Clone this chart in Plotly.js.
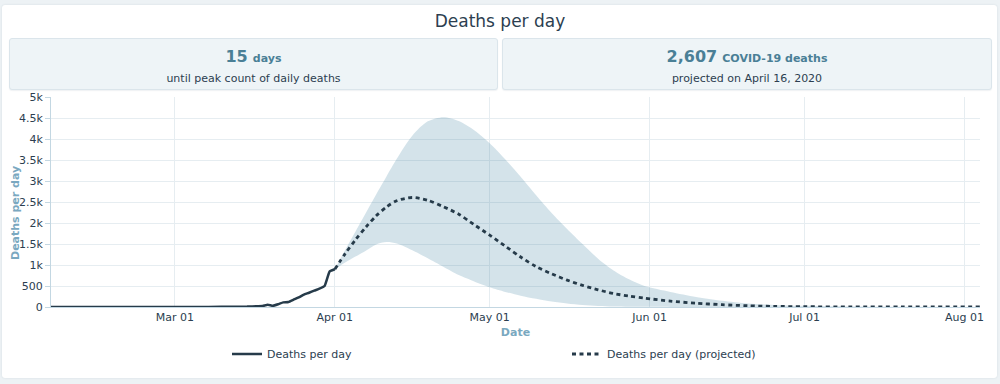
<!DOCTYPE html>
<html>
<head>
<meta charset="utf-8">
<script src="https://cdn.plot.ly/plotly-3.0.1.min.js"></script>
<style>
  body { margin:0; background:#edf2f5; font-family:"DejaVu Sans", sans-serif; }
  #card { position:absolute; left:2px; top:5px; width:995px; height:373px; background:#fff; border-radius:3px; box-shadow:0 0 2px rgba(60,90,110,0.15); }
  #chart { position:absolute; left:0; top:0; width:1000px; height:384px; }
  .box { position:absolute; top:38px; height:50px; background:#eef4f7; border:1px solid #dbe5eb; border-radius:3px; box-shadow:0 1px 1px rgba(60,90,110,0.08); text-align:center; color:#2c3e50; z-index:5; }
  .l1 { position:absolute; left:0; right:0; top:7px; line-height:22px; white-space:nowrap; }
  .big { font-size:16px; font-weight:bold; color:#4a7f96; }
  .unit { font-size:11px; font-weight:bold; color:#4a7f96; }
  .l2 { position:absolute; left:0; right:0; top:32px; line-height:16px; font-size:11px; color:#2c3e50; white-space:nowrap; }
</style>
</head>
<body>
<div id="card"></div>
<div id="chart"></div>
<div class="box" style="left:9px;width:487px;">
  <div class="l1"><span class="big">15</span> <span class="unit">days</span></div>
  <div class="l2">until peak count of daily deaths</div>
</div>
<div class="box" style="left:502px;width:488px;">
  <div class="l1"><span class="big">2,607</span> <span class="unit">COVID-19 deaths</span></div>
  <div class="l2">projected on April 16, 2020</div>
</div>
<script>
// Observed deaths per day
const actualDates = ['2020-02-06','2020-03-01','2020-03-05','2020-03-10','2020-03-13','2020-03-15','2020-03-17','2020-03-18','2020-03-19','2020-03-20','2020-03-21','2020-03-22','2020-03-23','2020-03-24','2020-03-25','2020-03-26','2020-03-27','2020-03-28','2020-03-29','2020-03-30','2020-03-31','2020-04-01'];
const actualDeaths = [0,1,2,4,8,10,20,25,55,30,65,110,120,175,230,295,340,390,435,500,850,900];

// Projection (mean, upper and lower bound)
const projDates = ['2020-04-01','2020-04-03','2020-04-05','2020-04-07','2020-04-09','2020-04-11','2020-04-13','2020-04-16','2020-04-19','2020-04-22','2020-04-25','2020-04-28','2020-05-01','2020-05-04','2020-05-07','2020-05-10','2020-05-13','2020-05-16','2020-05-19','2020-05-22','2020-05-25','2020-05-28','2020-05-31','2020-06-05','2020-06-10','2020-06-15','2020-06-20','2020-06-25','2020-07-01','2020-07-10','2020-07-20','2020-08-04'];
const projDeaths = [900,1270,1600,1900,2170,2380,2530,2607,2540,2390,2210,1960,1710,1450,1190,960,790,640,515,410,320,260,210,140,90,55,30,15,7,3,1,0];
const projUpper  = [900,1360,1800,2240,2680,3110,3530,4080,4420,4520,4430,4210,3900,3520,3100,2660,2240,1860,1500,1150,870,660,500,360,240,150,85,50,28,12,5,2];
const projLower  = [900,1060,1200,1340,1490,1545,1510,1350,1160,960,760,610,470,360,270,195,130,82,45,22,10,5,3,1,0,0,0,0,0,0,0,0];

const seriesNames = ['Deaths per day', 'Deaths per day (projected)'];
const xRange = ['2020-02-06', '2020-08-04'];
const yRange = [0, 5000];

const lineColor = '#263b4a';
const textColor = '#2c3e50';
const axisTitleColor = '#7aa8c0';
const gridColor = '#e6edf1';
const axisLineColor = '#c3d7e2';

const traces = [
  { x: projDates, y: projLower, type:'scatter', mode:'lines', line:{width:0, shape:'spline', smoothing:0.8}, showlegend:false, hoverinfo:'skip' },
  { x: projDates, y: projUpper, type:'scatter', mode:'lines', fill:'tonexty', fillcolor:'rgba(40,115,150,0.2)', line:{width:0, shape:'spline', smoothing:0.8}, showlegend:false, hoverinfo:'skip' },
  { x: actualDates, y: actualDeaths, type:'scatter', mode:'lines', name: seriesNames[0], line:{color:lineColor, width:2.5, shape:'spline', smoothing:0.4}, legend:'legend' },
  { x: projDates, y: projDeaths, type:'scatter', mode:'lines', name: seriesNames[1], line:{color:lineColor, width:2.8, dash:'4px,3.5px', shape:'spline', smoothing:0.8}, legend:'legend2' }
];

const layout = {
  width: 1000, height: 384,
  margin: {l:51, r:20, t:97, b:77},
  paper_bgcolor: 'rgba(0,0,0,0)',
  plot_bgcolor: 'rgba(0,0,0,0)',
  font: {family:'"DejaVu Sans", sans-serif', size:11, color:textColor},
  title: {text:'Deaths per day', font:{size:17, color:textColor}, xref:'container', x:0.5, xanchor:'center', yref:'container', y:1-21/384, yanchor:'middle'},
  xaxis: {
    type:'date', range:xRange, dtick:'M1', tick0:'2020-01-01', tickformat:'%b %d',
    showgrid:true, gridcolor:gridColor, showline:true, linecolor:axisLineColor, zeroline:false,
    ticks:'', tickfont:{size:11, color:textColor},
    title:{text:'<b>Date</b>', font:{size:11, color:axisTitleColor}, standoff:5}
  },
  yaxis: {
    range:yRange, dtick:500, tickformat:'~s',
    showgrid:true, gridcolor:gridColor, showline:true, linecolor:axisLineColor, zeroline:false,
    ticks:'outside', ticklen:5, tickcolor:axisLineColor, tickfont:{size:11, color:textColor}
  },
  annotations: [
    {text:'<b>Deaths per day</b>', textangle:-90, xref:'paper', yref:'paper', x:(15-51)/929, y:(307-213)/210, xanchor:'center', yanchor:'middle', showarrow:false, font:{size:11, color:axisTitleColor}}
  ],
  legend: {orientation:'h', x:(227-51)/929, xanchor:'left', y:(307-354)/210, yanchor:'middle', font:{size:11, color:textColor}, bgcolor:'rgba(0,0,0,0)'},
  legend2: {orientation:'h', x:(567-51)/929, xanchor:'left', y:(307-354)/210, yanchor:'middle', font:{size:11, color:textColor}, bgcolor:'rgba(0,0,0,0)'},
  hovermode:false
};

Plotly.newPlot('chart', traces, layout, {displayModeBar:false, staticPlot:true});
</script>
</body>
</html>
